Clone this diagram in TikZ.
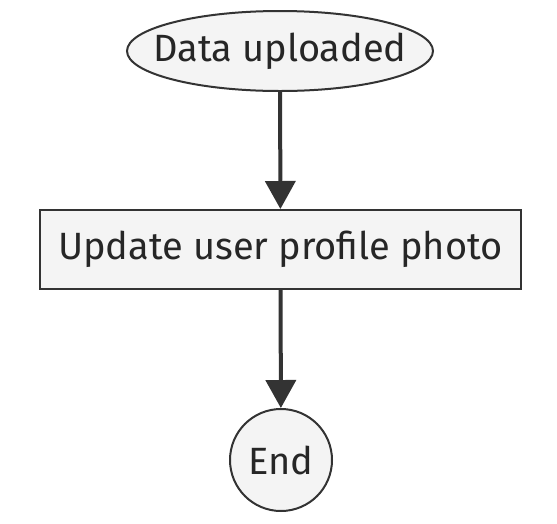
\documentclass[tikz,border=0pt]{standalone}
\usepackage{fontspec}
\setmainfont{Fira Sans}
\usetikzlibrary{shapes.geometric,arrows.meta}
\definecolor{nodefill}{HTML}{F4F4F4}
\definecolor{nodeline}{HTML}{333333}
\definecolor{txt}{HTML}{262626}
\begin{document}
\begin{tikzpicture}[x=1pt,y=1pt,
  base/.style={draw=nodeline,fill=nodefill,line width=2pt,text=txt,font=\fontsize{38}{44}\selectfont,inner sep=0pt},
  lbl/.style={text=txt,font=\fontsize{38}{44}\selectfont,inner sep=0pt},
  flow/.style={draw=nodeline,line width=4pt,-{Triangle[length=28pt,width=30pt]}}]
\useasboundingbox (0,0) rectangle (557,-523);
\node[base,ellipse,minimum width=306pt,minimum height=80pt,label={[lbl]center:Data uploaded}] (a) at (280,-51) {};
\node[base,rectangle,minimum width=481pt,minimum height=79pt] (b) at (280.5,-249.5) {Update user profile photo};
\node[base,circle,minimum size=102pt] (c) at (281,-460) {End};
\draw[flow] (a) -- (b);
\draw[flow] (b) -- (c);
\end{tikzpicture}
\end{document}
